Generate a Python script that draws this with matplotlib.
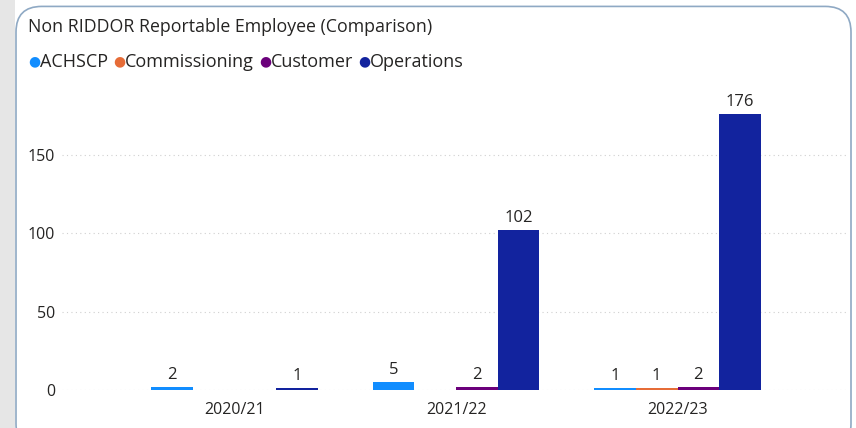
import matplotlib

matplotlib.use("Agg")
import matplotlib.pyplot as plt
import numpy as np
from matplotlib.patches import FancyBboxPatch, Rectangle

plt.rcParams["font.family"] = ["Open Sans", "DejaVu Sans"]

years = ["2020/21", "2021/22", "2022/23"]
series = ["ACHSCP", "Commissioning", "Customer", "Operations"]
colors = ["#118DFF", "#E66C37", "#6B007B", "#12239E"]
achscp = [2, 5, 1]
commissioning = [None, None, 1]
customer = [None, 2, 2]
operations = [1, 102, 176]
values = [achscp, commissioning, customer, operations]

TEXT = "#252423"

fig = plt.figure(figsize=(8.56, 4.28), dpi=100)
fig.patch.set_facecolor("white")

# left shadow strip and card border
fig.patches.append(Rectangle((0, 0), 15 / 856, 1, transform=fig.transFigure,
                             facecolor="#e6e6e6", edgecolor="none", zorder=0))
fig.patches.append(FancyBboxPatch((16 / 856, -0.05), 835 / 856, 0.95 + 0.05 + 0.035,
                                  boxstyle="round,pad=0,rounding_size=0.03",
                                  transform=fig.transFigure, facecolor="white",
                                  edgecolor="#8fa9c4", linewidth=1.2, zorder=0.5,
                                  mutation_aspect=2))

ax = fig.add_axes([62 / 856, 38 / 428, 786 / 856, 298 / 428])
ax.set_zorder(2)
ax.set_facecolor("none")
x = np.arange(len(years))
width = 0.188
offsets = (np.arange(len(series)) - 1.5) * width
for vals, off, col in zip(values, offsets, colors):
    for xi, v in zip(x, vals):
        if v is None:
            continue
        ax.bar(xi + off, v, width=width, color=col, zorder=3)
        ax.annotate(str(v), (xi + off, v), xytext=(0, 3), textcoords="offset points",
                    ha="center", va="bottom", fontsize=12, color=TEXT)

ax.set_xlim(-0.78, 2.77)
ax.set_ylim(0, 190)
ax.set_yticks([0, 50, 100, 150])
ax.set_xticks(x)
ax.set_xticklabels(years)
ax.tick_params(length=0, labelsize=11.5, colors=TEXT)
ax.tick_params(axis="y", pad=5)
ax.tick_params(axis="x", pad=9)
ax.grid(axis="y", color="#d0d0d0", linestyle=(0, (1, 3)), linewidth=0.8, zorder=0)
for s in ax.spines.values():
    s.set_visible(False)

fig.text(28 / 856, 1 - 27 / 428, "Non RIDDOR Reportable Employee (Comparison)",
         fontsize=12.8, color=TEXT, va="center", ha="left", zorder=3)

# legend row
lx = 28
for name, col in zip(series, colors):
    fig.text(lx / 856, 1 - 62 / 428, "\u25CF", fontsize=10, color=col, va="center",
             ha="left", zorder=3)
    t = fig.text((lx + 12) / 856, 1 - 62 / 428, name, fontsize=13, color=TEXT,
                 va="center", ha="left", zorder=3)
    fig.canvas.draw()
    bb = t.get_window_extent()
    lx = bb.x1 + 5

fig.savefig("out.png", dpi=100)
